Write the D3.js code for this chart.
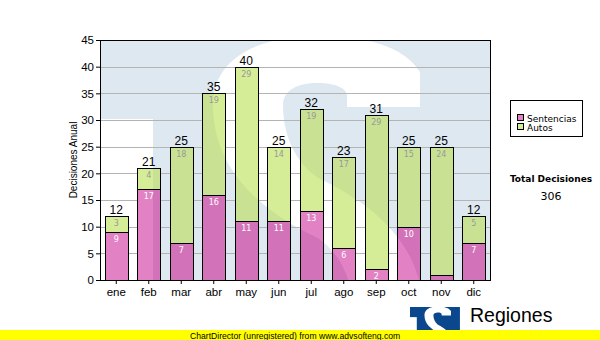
<!DOCTYPE html>
<html>
<head>
<meta charset="utf-8">
<script src="https://cdn.jsdelivr.net/npm/d3@7"></script>
<style>
  html, body { margin: 0; padding: 0; background: #fff; }
  svg { display: block; }
</style>
</head>
<body>
<svg id="chart" width="600" height="340"></svg>
<script>
// ---- data ----
const months = ["ene", "feb", "mar", "abr", "may", "jun", "jul", "ago", "sep", "oct", "nov", "dic"];
const sentencias = [9, 17, 7, 16, 11, 11, 13, 6, 2, 10, 1, 7];
const autos = [3, 4, 18, 19, 29, 14, 19, 17, 29, 15, 24, 5];
const seriesNames = ["Sentencias", "Autos"];
const yTickValues = [0, 5, 10, 15, 20, 25, 30, 35, 40, 45];
const yTitle = "Decisiones Anual";
const totalTitle = "Total Decisiones";
const brandName = "Regiones";
const footerText = "ChartDirector (unregistered) from www.advsofteng.com";

// ---- look ----
const fillOnWhite = { Sentencias: "#e282c4", Autos: "#d6ed98" };
const fillOnBlue  = { Sentencias: "#d273b9", Autos: "#c9e193" };
const labelColor  = { Sentencias: "#ffffff", Autos: "#999999" };
const wmBlue = "#dee8f1";
const logoBlue = "#0b478d";
const ARIAL = "'Liberation Sans', Arial, sans-serif";
const VERDANA = "'DejaVu Sans', Verdana, sans-serif";

const plot = { left: 100, top: 40, right: 490, bottom: 280 };
const svg = d3.select("#chart");

const x = d3.scaleBand().domain(months)
  .range([plot.left, plot.right]).paddingInner(0.28).paddingOuter(0.14);
const y = d3.scaleLinear().domain([0, 45]).range([plot.bottom, plot.top]);

const rows = months.map((m, i) => ({ month: m, Sentencias: sentencias[i], Autos: autos[i] }));
const stacked = d3.stack().keys(seriesNames)(rows);
const totals = months.map((m, i) => sentencias[i] + autos[i]);
const grandTotal = d3.sum(totals);

// logo shape ("S" emblem) in a 390-unit square starting at (100,40)
const sPath = "M420,107 L420,72 C405,48 370,36 318,36 C258,36 213,58 213,105 " +
  "C213,170 262,212 318,238 C341,254 353,281 353,311 C353,326 338,333 318,333 " +
  "C301,333 289,328 289,320 L289,309 L216,309 L216,344 C231,368 266,380 318,380 " +
  "C378,380 423,358 423,311 C423,246 374,204 318,178 C295,162 283,135 283,105 " +
  "C283,90 298,83 318,83 C335,83 347,88 347,96 L347,107 Z";
const notch = { x: 100, y: 119, w: 53, h: 311 };

const defs = svg.append("defs");
defs.append("clipPath").attr("id", "plotClip")
  .append("rect").attr("x", plot.left).attr("y", plot.top)
  .attr("width", plot.right - plot.left).attr("height", plot.bottom - plot.top);
defs.append("clipPath").attr("id", "logoClip")
  .append("rect").attr("x", 100).attr("y", 40).attr("width", 390).attr("height", 390);

const mask = defs.append("mask").attr("id", "blueMask")
  .attr("maskUnits", "userSpaceOnUse").attr("x", 0).attr("y", 0).attr("width", 600).attr("height", 340);
mask.append("rect").attr("x", plot.left).attr("y", plot.top)
  .attr("width", plot.right - plot.left).attr("height", plot.bottom - plot.top).attr("fill", "#fff");
mask.append("rect").attr("x", notch.x).attr("y", notch.y).attr("width", notch.w).attr("height", notch.h).attr("fill", "#000");
mask.append("path").attr("d", sPath).attr("fill", "#000");

// ---- plot background emblem ----
const bg = svg.append("g").attr("clip-path", "url(#plotClip)");
bg.append("rect").attr("x", plot.left).attr("y", plot.top)
  .attr("width", plot.right - plot.left).attr("height", plot.bottom - plot.top).attr("fill", wmBlue);
bg.append("rect").attr("x", notch.x).attr("y", notch.y).attr("width", notch.w).attr("height", notch.h).attr("fill", "#fff");
bg.append("path").attr("d", sPath).attr("fill", "#fff");

// ---- grid ----
const crisp = v => Math.round(v) + 0.5;
svg.append("g").selectAll("line")
  .data(yTickValues.filter(v => v > 0 && v < 45))
  .join("line")
  .attr("x1", plot.left).attr("x2", plot.right)
  .attr("y1", d => crisp(y(d))).attr("y2", d => crisp(y(d)))
  .attr("stroke", "#b4b4b4").attr("stroke-width", 1);

// ---- bars ----
function segGeom(d) {
  const x0 = Math.round(x(d.data.month)) + 0.5;
  const x1 = Math.round(x(d.data.month) + x.bandwidth()) + 0.5;
  const y0 = Math.round(y(d[1])) + 0.5;
  const y1 = Math.round(y(d[0])) + 0.5;
  return { x: x0, y: y0, w: x1 - x0, h: y1 - y0 };
}
function drawBars(g, fills, stroke) {
  g.selectAll("g").data(stacked).join("g")
    .attr("fill", s => fills ? fills[s.key] : "none")
    .attr("stroke", stroke || "none")
    .selectAll("rect").data(s => s).join("rect")
    .attr("x", d => segGeom(d).x).attr("y", d => segGeom(d).y)
    .attr("width", d => segGeom(d).w).attr("height", d => segGeom(d).h);
}
drawBars(svg.append("g"), fillOnWhite, null);
drawBars(svg.append("g").attr("mask", "url(#blueMask)"), fillOnBlue, null);
drawBars(svg.append("g").attr("stroke-width", 1), null, "#000");

// ---- plot frame ----
svg.append("rect").attr("x", plot.left + 0.5).attr("y", plot.top + 0.5)
  .attr("width", plot.right - plot.left).attr("height", plot.bottom - plot.top)
  .attr("fill", "none").attr("stroke", "#000");

// ---- axes ----
const yAxis = svg.append("g").attr("transform", `translate(${plot.left},0)`)
  .call(d3.axisLeft(y).tickValues(yTickValues).tickSize(4).tickSizeOuter(0).tickPadding(2));
yAxis.select(".domain").remove();
yAxis.selectAll("line").attr("stroke", "#000");
yAxis.selectAll("text").attr("font-family", ARIAL).attr("font-size", 11.5).attr("fill", "#000");

const xAxis = svg.append("g").attr("transform", `translate(0,${plot.bottom})`)
  .call(d3.axisBottom(x).tickSize(4).tickSizeOuter(0).tickPadding(4.3));
xAxis.select(".domain").remove();
xAxis.selectAll("line").attr("stroke", "#000");
xAxis.selectAll("text").attr("font-family", ARIAL).attr("font-size", 11.5).attr("fill", "#000");

svg.append("text")
  .attr("transform", `translate(76.5,160) rotate(-90)`)
  .attr("text-anchor", "middle").attr("font-family", ARIAL).attr("font-size", 10)
  .attr("fill", "#000").text(yTitle);

// ---- value labels ----
const cx = m => x(m) + x.bandwidth() / 2;
svg.append("g").selectAll("text").data(months).join("text")
  .attr("x", m => cx(m)).attr("y", (m, i) => y(totals[i]) - 2)
  .attr("text-anchor", "middle").attr("font-family", ARIAL).attr("font-size", 12)
  .attr("fill", "#000").text((m, i) => totals[i]);

svg.append("g").selectAll("g").data(stacked).join("g")
  .attr("fill", s => labelColor[s.key])
  .selectAll("text").data(s => s.filter(d => y(d[0]) - y(d[1]) >= 10)).join("text")
  .attr("x", d => cx(d.data.month)).attr("y", d => y(d[1]) + 10)
  .attr("text-anchor", "middle").attr("font-family", VERDANA).attr("font-size", 8)
  .text(d => d[1] - d[0]);

// ---- legend ----
const legend = svg.append("g");
legend.append("rect").attr("x", 510.5).attr("y", 100.5).attr("width", 72).attr("height", 36)
  .attr("fill", "#fff").attr("stroke", "#000");
const items = legend.selectAll("g").data(seriesNames).join("g")
  .attr("transform", (d, i) => `translate(0,${i * 9})`);
items.append("rect").attr("x", 517.5).attr("y", 114.5).attr("width", 6).attr("height", 6)
  .attr("fill", d => fillOnWhite[d]).attr("stroke", "#000");
items.append("text").attr("x", 527).attr("y", 121.5)
  .attr("font-family", VERDANA).attr("font-size", 9).attr("fill", "#000").text(d => d);

svg.append("text").attr("x", 551).attr("y", 182).attr("text-anchor", "middle")
  .attr("font-family", VERDANA).attr("font-size", 9).attr("font-weight", "bold")
  .attr("fill", "#000").text(totalTitle);
svg.append("text").attr("x", 551).attr("y", 200).attr("text-anchor", "middle")
  .attr("font-family", VERDANA).attr("font-size", 11)
  .attr("fill", "#000").text(grandTotal);

// ---- brand emblem ----
const logo = svg.append("g").attr("transform", "translate(410,307) scale(0.128) translate(-100,-40)")
  .append("g").attr("clip-path", "url(#logoClip)");
logo.append("rect").attr("x", 100).attr("y", 40).attr("width", 390).attr("height", 390).attr("fill", logoBlue);
logo.append("rect").attr("x", notch.x).attr("y", notch.y).attr("width", notch.w).attr("height", notch.h).attr("fill", "#fff");
logo.append("path").attr("d", sPath).attr("fill", "#fff");
svg.append("text").attr("x", 470).attr("y", 322)
  .attr("font-family", ARIAL).attr("font-size", 19.5).attr("fill", "#000").text(brandName);

// ---- footer strip ----
svg.append("rect").attr("x", 0).attr("y", 330).attr("width", 600).attr("height", 10).attr("fill", "#ffff00");
svg.append("text").attr("x", 190).attr("y", 338.5)
  .attr("font-family", ARIAL).attr("font-size", 8.6).attr("fill", "#000").text(footerText);
</script>
</body>
</html>
